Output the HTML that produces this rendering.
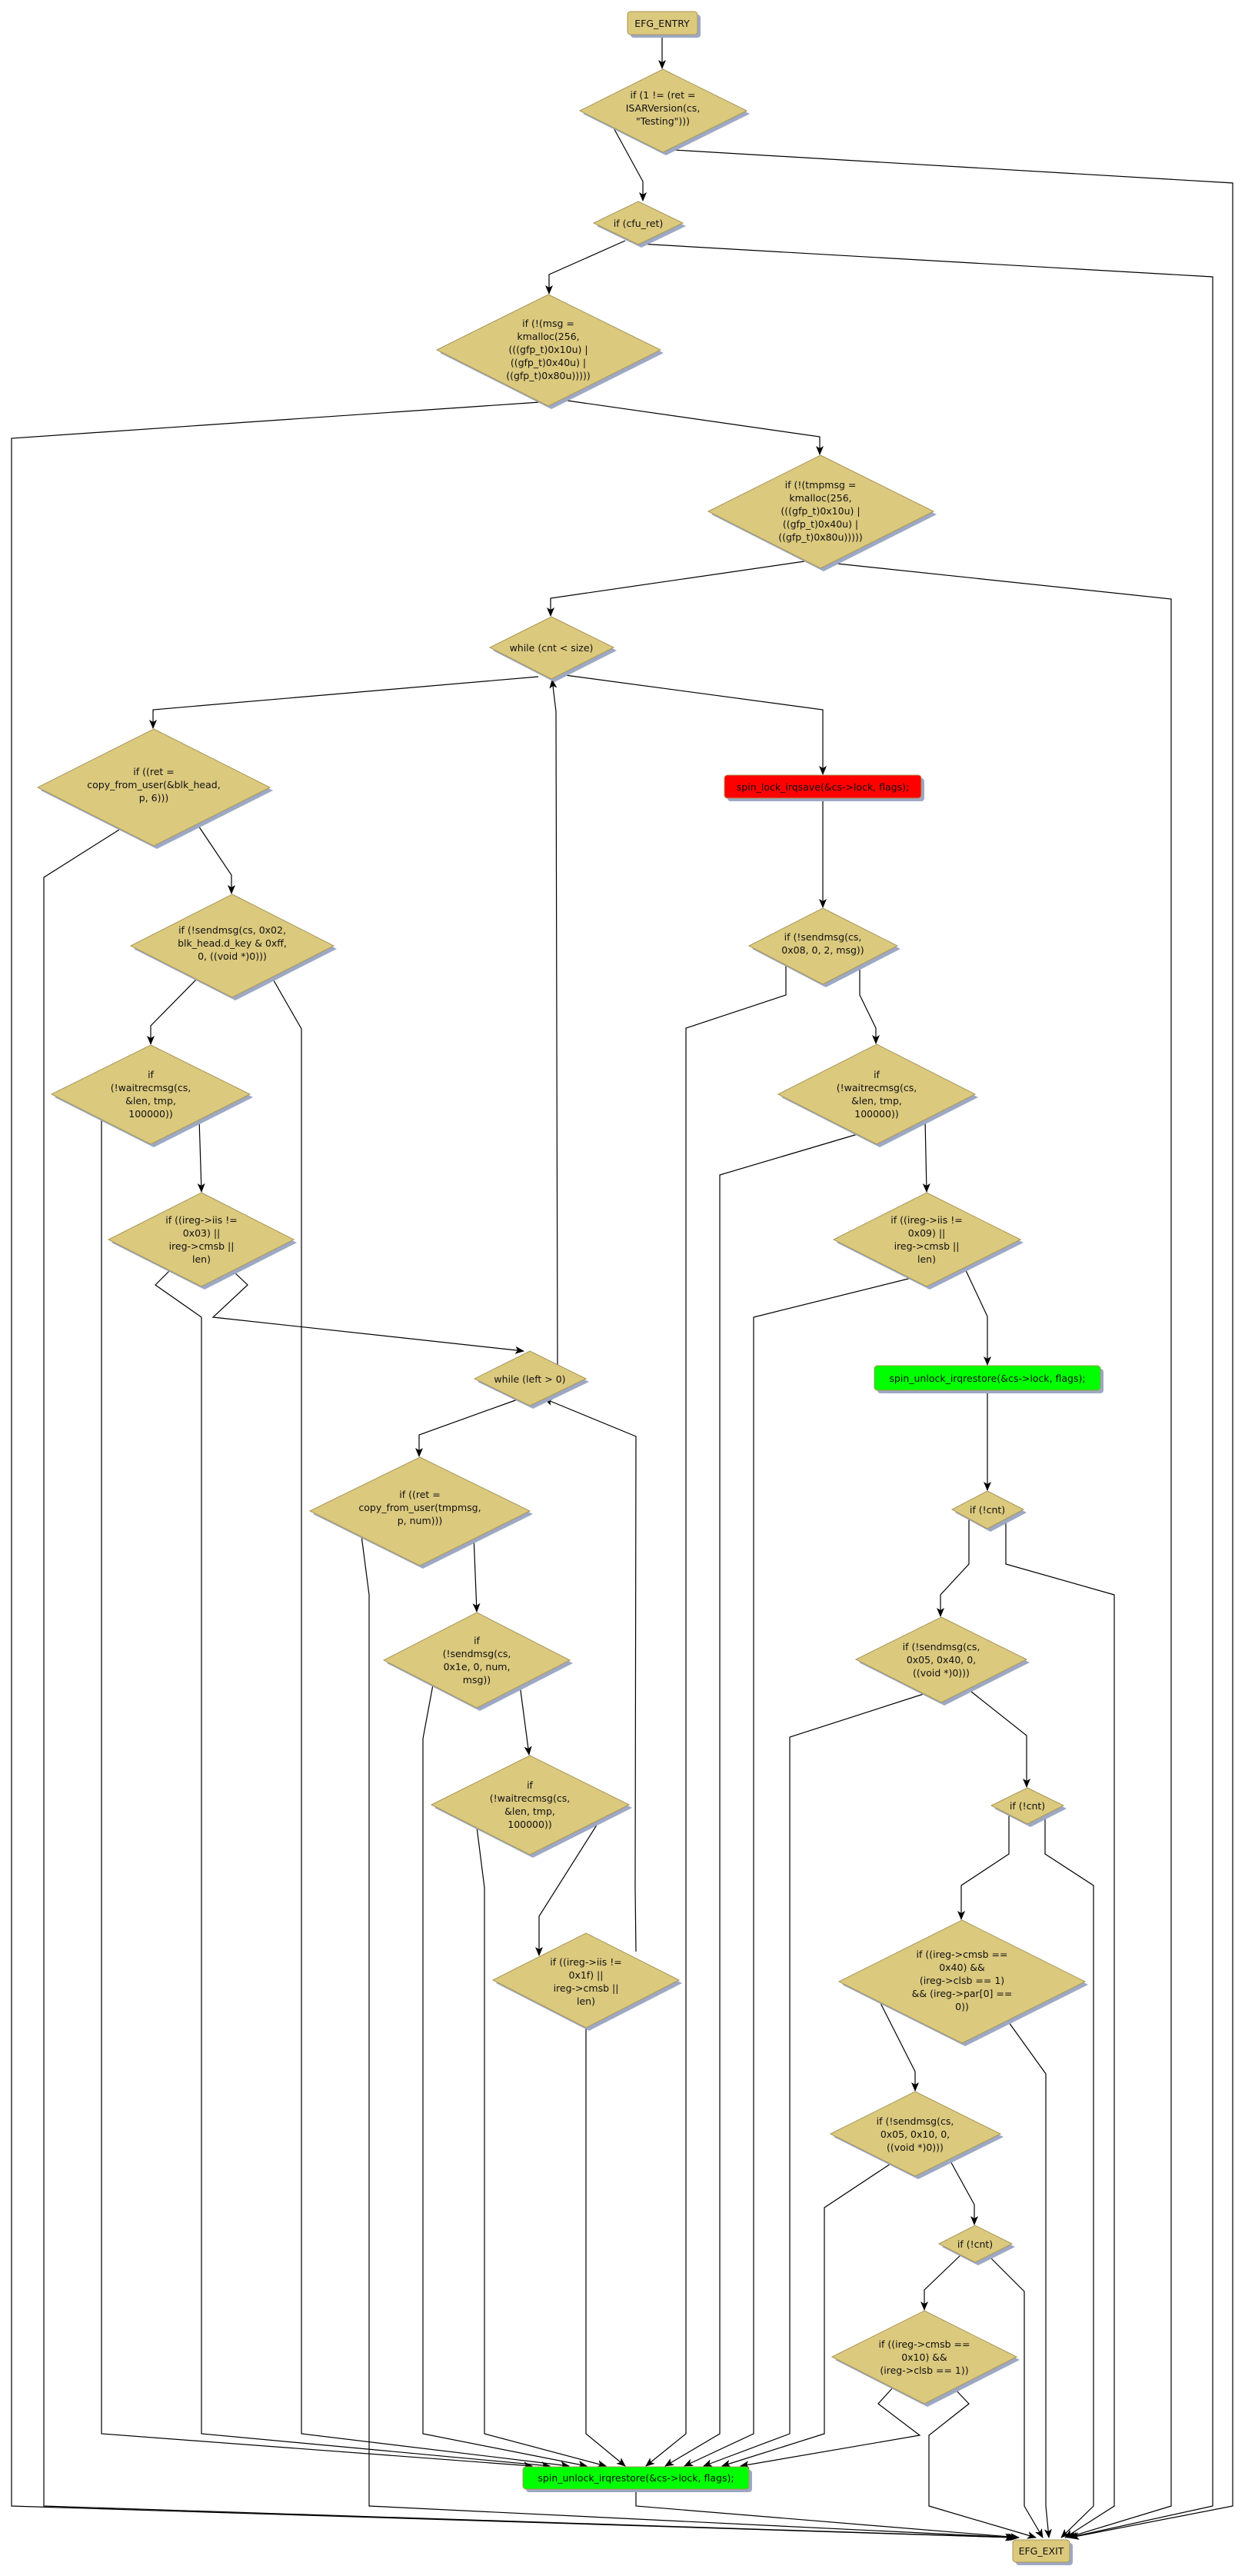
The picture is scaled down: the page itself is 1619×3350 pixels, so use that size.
<!DOCTYPE html>
<html><head><meta charset="utf-8"><style>
html,body{margin:0;padding:0;background:#fff}
svg{display:block}
text{font-family:"DejaVu Sans","Liberation Sans",sans-serif;font-size:12.5px;fill:#111;text-anchor:middle}
.e{fill:none;stroke:#000;stroke-width:1.2}
.d{fill:#DBC97E;stroke:#A8975A;stroke-width:1}
.s{fill:#9DA8C4}
</style></head><body>
<svg width="1619" height="3350" viewBox="0 0 1619 3350" xmlns="http://www.w3.org/2000/svg">
<defs><marker id="a" markerWidth="12" markerHeight="10" refX="11" refY="5" orient="auto" markerUnits="userSpaceOnUse"><path d="M0,0 L12,5 L0,10 L3,5 z" fill="#000"/></marker></defs>

<!-- edges -->
<g class="e" marker-end="url(#a)">
<polyline points="861,45 861,89"/>
<polyline points="795,161 836,236 836,261"/>
<polyline points="876,195 1603,238 1603,3259 1392,3300"/>
<polyline points="813,313 714,357 714,382"/>
<polyline points="831,317 1577,360 1577,3259 1390,3300"/>
<polyline points="702,523 15,570 15,3259 1318,3300"/>
<polyline points="731,520 1066,568 1066,591"/>
<polyline points="1046,730 716,778 716,801"/>
<polyline points="1079,732 1523,779 1523,3259 1388,3300"/>
<polyline points="700,880 199,923 199,947"/>
<polyline points="735,878 1070,923 1070,1007"/>
<polyline points="1070,1038 1070,1180"/>
<polyline points="155,1079 57,1141 57,3259 1320,3300"/>
<polyline points="256,1071 301,1138 301,1162"/>
<polyline points="256,1273 196,1334 196,1358"/>
<polyline points="353,1270 392,1338 392,3165 740,3207"/>
<polyline points="132,1455 132,3165 692,3207"/>
<polyline points="259,1455 262,1550"/>
<polyline points="220,1653 202,1671 262,1713 262,3165 715,3207"/>
<polyline points="303,1653 322,1671 277,1713 681,1757"/>
<polyline points="725,1780 723,925 718,884"/>
<polyline points="673,1820 545,1866 545,1894"/>
<polyline points="827,2538 826,2455 827,1868 708,1819"/>
<polyline points="1022,1254 1022,1294 892,1337 892,3165 840,3207"/>
<polyline points="1118,1253 1118,1294 1139,1337 1139,1357"/>
<polyline points="1115,1475 936,1528 936,3165 865,3207"/>
<polyline points="1203,1455 1205,1550"/>
<polyline points="1185,1662 980,1713 980,3165 890,3207"/>
<polyline points="1254,1648 1284,1712 1284,1775"/>
<polyline points="1284,1808 1284,1938"/>
<polyline points="470,1997 480,2074 480,3259 1322,3300"/>
<polyline points="616,1997 620,2096"/>
<polyline points="563,2191 550,2261 550,3165 763,3207"/>
<polyline points="676,2191 688,2282"/>
<polyline points="620,2376 630,2455 630,3165 788,3207"/>
<polyline points="780,2367 701,2492 701,2543"/>
<polyline points="762,2637 762,3165 813,3207"/>
<polyline points="827,3237 827,3259 1325,3300"/>
<polyline points="1260,1974 1260,2034 1223,2074 1223,2102"/>
<polyline points="1308,1974 1308,2034 1449,2074 1449,3259 1385,3300"/>
<polyline points="1201,2203 1027,2259 1027,3165 915,3207"/>
<polyline points="1258,2196 1335,2257 1335,2324"/>
<polyline points="1312,2360 1312,2411 1250,2452 1250,2496"/>
<polyline points="1359,2360 1359,2411 1422,2452 1422,3259 1380,3300"/>
<polyline points="1144,2603 1190,2694 1190,2719"/>
<polyline points="1309,2626 1360,2697 1360,3259 1364,3300"/>
<polyline points="1158,2814 1072,2871 1072,3165 939,3207"/>
<polyline points="1234,2807 1267,2867 1267,2893"/>
<polyline points="1251,2931 1202,2978 1202,3004"/>
<polyline points="1283,2931 1332,2980 1332,3259 1356,3300"/>
<polyline points="1162,3104 1142,3126 1196,3167 963,3207"/>
<polyline points="1239,3104 1260,3126 1208,3167 1208,3259 1347,3300"/>
</g>

<!-- rect nodes -->
<rect x="820" y="19" width="91" height="30" rx="4" class="s"/>
<rect x="816" y="15" width="91" height="30" rx="4" class="d"/>
<text x="861" y="35">EFG_ENTRY</text>

<rect x="946" y="1012" width="256" height="30" rx="4" class="s"/>
<rect x="942" y="1008" width="256" height="30" rx="4" fill="#FF0000" stroke="#A8975A"/>
<text x="1070" y="1028">spin_lock_irqsave(&amp;cs-&gt;lock, flags);</text>

<rect x="1141" y="1780" width="294" height="32" rx="4" class="s"/>
<rect x="1137" y="1776" width="294" height="32" rx="4" fill="#00FF00" stroke="#A8975A"/>
<text x="1284" y="1797">spin_unlock_irqrestore(&amp;cs-&gt;lock, flags);</text>

<rect x="684" y="3212" width="294" height="29" rx="4" class="s"/>
<rect x="680" y="3208" width="294" height="29" rx="4" fill="#00FF00" stroke="#A8975A"/>
<text x="827" y="3227">spin_unlock_irqrestore(&amp;cs-&gt;lock, flags);</text>

<rect x="1321" y="3307" width="74" height="29" rx="4" class="s"/>
<rect x="1317" y="3303" width="74" height="29" rx="4" class="d"/>
<text x="1354" y="3322">EFG_EXIT</text>

<!-- diamonds: shadow + shape -->
<g>
<polygon class="s" points="866,94 975,148 866,202 758,148"/>
<polygon class="d" points="862,90 971,144 862,198 754,144"/>
<text x="862" y="128">if (1 != (ret =</text><text x="862" y="145">ISARVersion(cs,</text><text x="862" y="162">"Testing")))</text>

<polygon class="s" points="834,266 892,294 834,322 776,294"/>
<polygon class="d" points="830,262 888,290 830,318 772,290"/>
<text x="830" y="295">if (cfu_ret)</text>

<polygon class="s" points="717,387 863,459 717,532 572,459"/>
<polygon class="d" points="713,383 859,455 713,528 568,455"/>
<text x="713" y="425">if (!(msg =</text><text x="713" y="442">kmalloc(256,</text><text x="713" y="459">(((gfp_t)0x10u) |</text><text x="713" y="476">((gfp_t)0x40u) |</text><text x="713" y="493">((gfp_t)0x80u)))))</text>

<polygon class="s" points="1071,596 1218,669 1071,743 925,669"/>
<polygon class="d" points="1067,592 1214,665 1067,739 921,665"/>
<text x="1067" y="635">if (!(tmpmsg =</text><text x="1067" y="652">kmalloc(256,</text><text x="1067" y="669">(((gfp_t)0x10u) |</text><text x="1067" y="686">((gfp_t)0x40u) |</text><text x="1067" y="703">((gfp_t)0x80u)))))</text>

<polygon class="s" points="721,806 802,846 721,887 641,846"/>
<polygon class="d" points="717,802 798,842 717,883 637,842"/>
<text x="717" y="847">while (cnt &lt; size)</text>

<polygon class="s" points="204,952 355,1028 204,1104 53,1028"/>
<polygon class="d" points="200,948 351,1024 200,1100 49,1024"/>
<text x="200" y="1008">if ((ret =</text><text x="200" y="1025">copy_from_user(&amp;blk_head,</text><text x="200" y="1042">p, 6)))</text>

<polygon class="s" points="306,1167 438,1234 306,1301 174,1234"/>
<polygon class="d" points="302,1163 434,1230 302,1297 170,1230"/>
<text x="302" y="1214">if (!sendmsg(cs, 0x02,</text><text x="302" y="1231">blk_head.d_key &amp; 0xff,</text><text x="302" y="1248">0, ((void *)0)))</text>

<polygon class="s" points="1074,1185 1171,1234 1074,1284 978,1234"/>
<polygon class="d" points="1070,1181 1167,1230 1070,1280 974,1230"/>
<text x="1070" y="1223">if (!sendmsg(cs,</text><text x="1070" y="1240">0x08, 0, 2, msg))</text>

<polygon class="s" points="200,1363 329,1427 200,1492 71,1427"/>
<polygon class="d" points="196,1359 325,1423 196,1488 67,1423"/>
<text x="196" y="1402">if</text><text x="196" y="1419">(!waitrecmsg(cs,</text><text x="196" y="1436">&amp;len, tmp,</text><text x="196" y="1453">100000))</text>

<polygon class="s" points="1144,1362 1272,1427 1144,1492 1016,1427"/>
<polygon class="d" points="1140,1358 1268,1423 1140,1488 1012,1423"/>
<text x="1140" y="1402">if</text><text x="1140" y="1419">(!waitrecmsg(cs,</text><text x="1140" y="1436">&amp;len, tmp,</text><text x="1140" y="1453">100000))</text>

<polygon class="s" points="266,1555 386,1616 266,1677 145,1616"/>
<polygon class="d" points="262,1551 382,1612 262,1673 141,1612"/>
<text x="262" y="1591">if ((ireg-&gt;iis !=</text><text x="262" y="1608">0x03) ||</text><text x="262" y="1625">ireg-&gt;cmsb ||</text><text x="262" y="1642">len)</text>

<polygon class="s" points="1209,1555 1331,1616 1209,1677 1088,1616"/>
<polygon class="d" points="1205,1551 1327,1612 1205,1673 1084,1612"/>
<text x="1205" y="1591">if ((ireg-&gt;iis !=</text><text x="1205" y="1608">0x09) ||</text><text x="1205" y="1625">ireg-&gt;cmsb ||</text><text x="1205" y="1642">len)</text>

<polygon class="s" points="693,1761 766,1797 693,1832 621,1797"/>
<polygon class="d" points="689,1757 762,1793 689,1828 617,1793"/>
<text x="689" y="1798">while (left &gt; 0)</text>

<polygon class="s" points="550,1899 693,1969 550,2040 407,1969"/>
<polygon class="d" points="546,1895 689,1965 546,2036 403,1965"/>
<text x="546" y="1948">if ((ret =</text><text x="546" y="1965">copy_from_user(tmpmsg,</text><text x="546" y="1982">p, num)))</text>

<polygon class="s" points="1288,1943 1335,1967 1288,1992 1242,1967"/>
<polygon class="d" points="1284,1939 1331,1963 1284,1988 1238,1963"/>
<text x="1284" y="1968">if (!cnt)</text>

<polygon class="s" points="624,2101 745,2163 624,2225 503,2163"/>
<polygon class="d" points="620,2097 741,2159 620,2221 499,2159"/>
<text x="620" y="2138">if</text><text x="620" y="2155">(!sendmsg(cs,</text><text x="620" y="2172">0x1e, 0, num,</text><text x="620" y="2189">msg))</text>

<polygon class="s" points="1228,2107 1339,2162 1228,2218 1117,2162"/>
<polygon class="d" points="1224,2103 1335,2158 1224,2214 1113,2158"/>
<text x="1224" y="2146">if (!sendmsg(cs,</text><text x="1224" y="2163">0x05, 0x40, 0,</text><text x="1224" y="2180">((void *)0)))</text>

<polygon class="s" points="693,2287 822,2351 693,2416 565,2351"/>
<polygon class="d" points="689,2283 818,2347 689,2412 561,2347"/>
<text x="689" y="2326">if</text><text x="689" y="2343">(!waitrecmsg(cs,</text><text x="689" y="2360">&amp;len, tmp,</text><text x="689" y="2377">100000))</text>

<polygon class="s" points="1340,2329 1387,2352 1340,2376 1293,2352"/>
<polygon class="d" points="1336,2325 1383,2348 1336,2372 1289,2348"/>
<text x="1336" y="2353">if (!cnt)</text>

<polygon class="s" points="1255,2501 1415,2581 1255,2661 1095,2581"/>
<polygon class="d" points="1251,2497 1411,2577 1251,2657 1091,2577"/>
<text x="1251" y="2546">if ((ireg-&gt;cmsb ==</text><text x="1251" y="2563">0x40) &amp;&amp;</text><text x="1251" y="2580">(ireg-&gt;clsb == 1)</text><text x="1251" y="2597">&amp;&amp; (ireg-&gt;par[0] ==</text><text x="1251" y="2614">0))</text>

<polygon class="s" points="766,2518 887,2579 766,2641 645,2579"/>
<polygon class="d" points="762,2514 883,2575 762,2637 641,2575"/>
<text x="762" y="2556">if ((ireg-&gt;iis !=</text><text x="762" y="2573">0x1f) ||</text><text x="762" y="2590">ireg-&gt;cmsb ||</text><text x="762" y="2607">len)</text>

<polygon class="s" points="1194,2724 1305,2779 1194,2834 1084,2779"/>
<polygon class="d" points="1190,2720 1301,2775 1190,2830 1080,2775"/>
<text x="1190" y="2763">if (!sendmsg(cs,</text><text x="1190" y="2780">0x05, 0x10, 0,</text><text x="1190" y="2797">((void *)0)))</text>

<polygon class="s" points="1272,2898 1320,2922 1272,2946 1225,2922"/>
<polygon class="d" points="1268,2894 1316,2918 1268,2942 1221,2918"/>
<text x="1268" y="2923">if (!cnt)</text>

<polygon class="s" points="1206,3009 1326,3069 1206,3130 1086,3069"/>
<polygon class="d" points="1202,3005 1322,3065 1202,3126 1082,3065"/>
<text x="1202" y="3053">if ((ireg-&gt;cmsb ==</text><text x="1202" y="3070">0x10) &amp;&amp;</text><text x="1202" y="3087">(ireg-&gt;clsb == 1))</text>
</g>
</svg>
</body></html>
